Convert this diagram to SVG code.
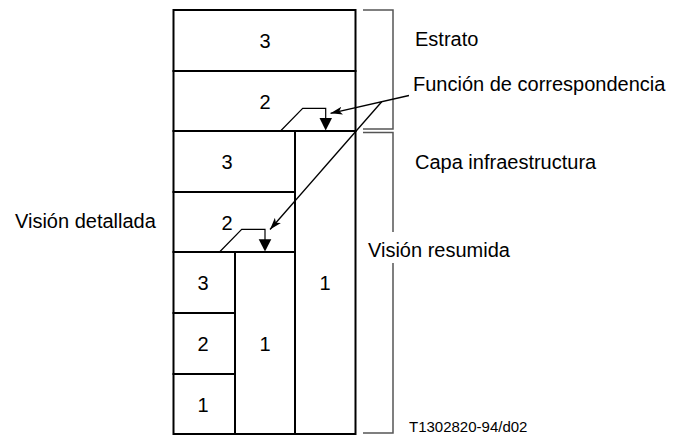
<svg xmlns="http://www.w3.org/2000/svg" width="674" height="437" viewBox="0 0 674 437">
<style>
.cell{fill:#fff;stroke:#000;stroke-width:2}
.num{font-family:"Liberation Sans",Arial,sans-serif;font-size:20px;fill:#000;text-anchor:middle}
.lbl{font-family:"Liberation Sans",Arial,sans-serif;font-size:20px;fill:#000}
.small{font-family:"Liberation Sans",Arial,sans-serif;font-size:15px;fill:#000}
.brk{fill:none;stroke:#555;stroke-width:1.5}
.map{fill:none;stroke:#000;stroke-width:1.2}
.tri{fill:#000;stroke:none}
.ptr{fill:none;stroke:#000;stroke-width:1.3}
</style>
<defs>
<marker id="ah" viewBox="0 0 12 8" refX="12" refY="4" markerWidth="12" markerHeight="8" markerUnits="userSpaceOnUse" orient="auto">
<path d="M0,0 L12,4 L0,8 L3,4 Z" fill="#000"/>
</marker>
</defs>
<g id="estrato3"><rect class="cell" x="173.5" y="10" width="182" height="61"/><text class="num" x="265" y="47.5">3</text></g>
<g id="estrato2"><rect class="cell" x="173.5" y="71" width="182" height="60"/><text class="num" x="265" y="108.5">2</text></g>
<g id="infra3"><rect class="cell" x="173.5" y="131" width="121.5" height="61"/><text class="num" x="227" y="169">3</text></g>
<g id="infra2"><rect class="cell" x="173.5" y="192" width="121.5" height="60"/><text class="num" x="227" y="230">2</text></g>
<g id="infra1"><rect class="cell" x="295" y="131" width="60.5" height="303"/><text class="num" x="325" y="290">1</text></g>
<g id="sub3"><rect class="cell" x="173.5" y="252" width="61.5" height="61"/><text class="num" x="203" y="290">3</text></g>
<g id="sub2"><rect class="cell" x="173.5" y="313" width="61.5" height="61"/><text class="num" x="203" y="350.5">2</text></g>
<g id="sub1"><rect class="cell" x="173.5" y="374" width="61.5" height="60"/><text class="num" x="203" y="412">1</text></g>
<g id="sub1b"><rect class="cell" x="235" y="252" width="60" height="182"/><text class="num" x="265" y="350.5">1</text></g>
<g id="map-upper"><path class="map" d="M281,130.5 L302.7,108.3 L325.7,108.3 L325.7,119"/><path class="tri" d="M319.5,118 L332,118 L325.7,130.5 Z"/></g>
<g id="map-lower"><path class="map" d="M220,251.5 L241.7,229.3 L265,229.3 L265,240"/><path class="tri" d="M258.7,239.3 L271.3,239.3 L265,251.5 Z"/></g>
<g id="brackets">
<path class="brk" d="M363,10 L393,10 L393,129 L363,129"/>
<path class="brk" d="M363,132.5 L393,132.5 L393,232"/>
<path class="brk" d="M393,263 L393,433 L363,433"/>
</g>
<g id="connectors">
<path class="ptr" d="M409,95.5 L330.5,113.3" marker-end="url(#ah)"/>
<path class="ptr" d="M381.7,101.7 L270,229.5" marker-end="url(#ah)"/>
</g>
<g id="labels">
<text class="lbl" x="415" y="46">Estrato</text>
<text class="lbl" x="413" y="91">Función de correspondencia</text>
<text class="lbl" x="415" y="169">Capa infraestructura</text>
<text class="lbl" x="368" y="257">Visión resumida</text>
<text class="lbl" x="15" y="228">Visión detallada</text>
<text class="small" x="409" y="432">T1302820-94/d02</text>
</g>
</svg>
